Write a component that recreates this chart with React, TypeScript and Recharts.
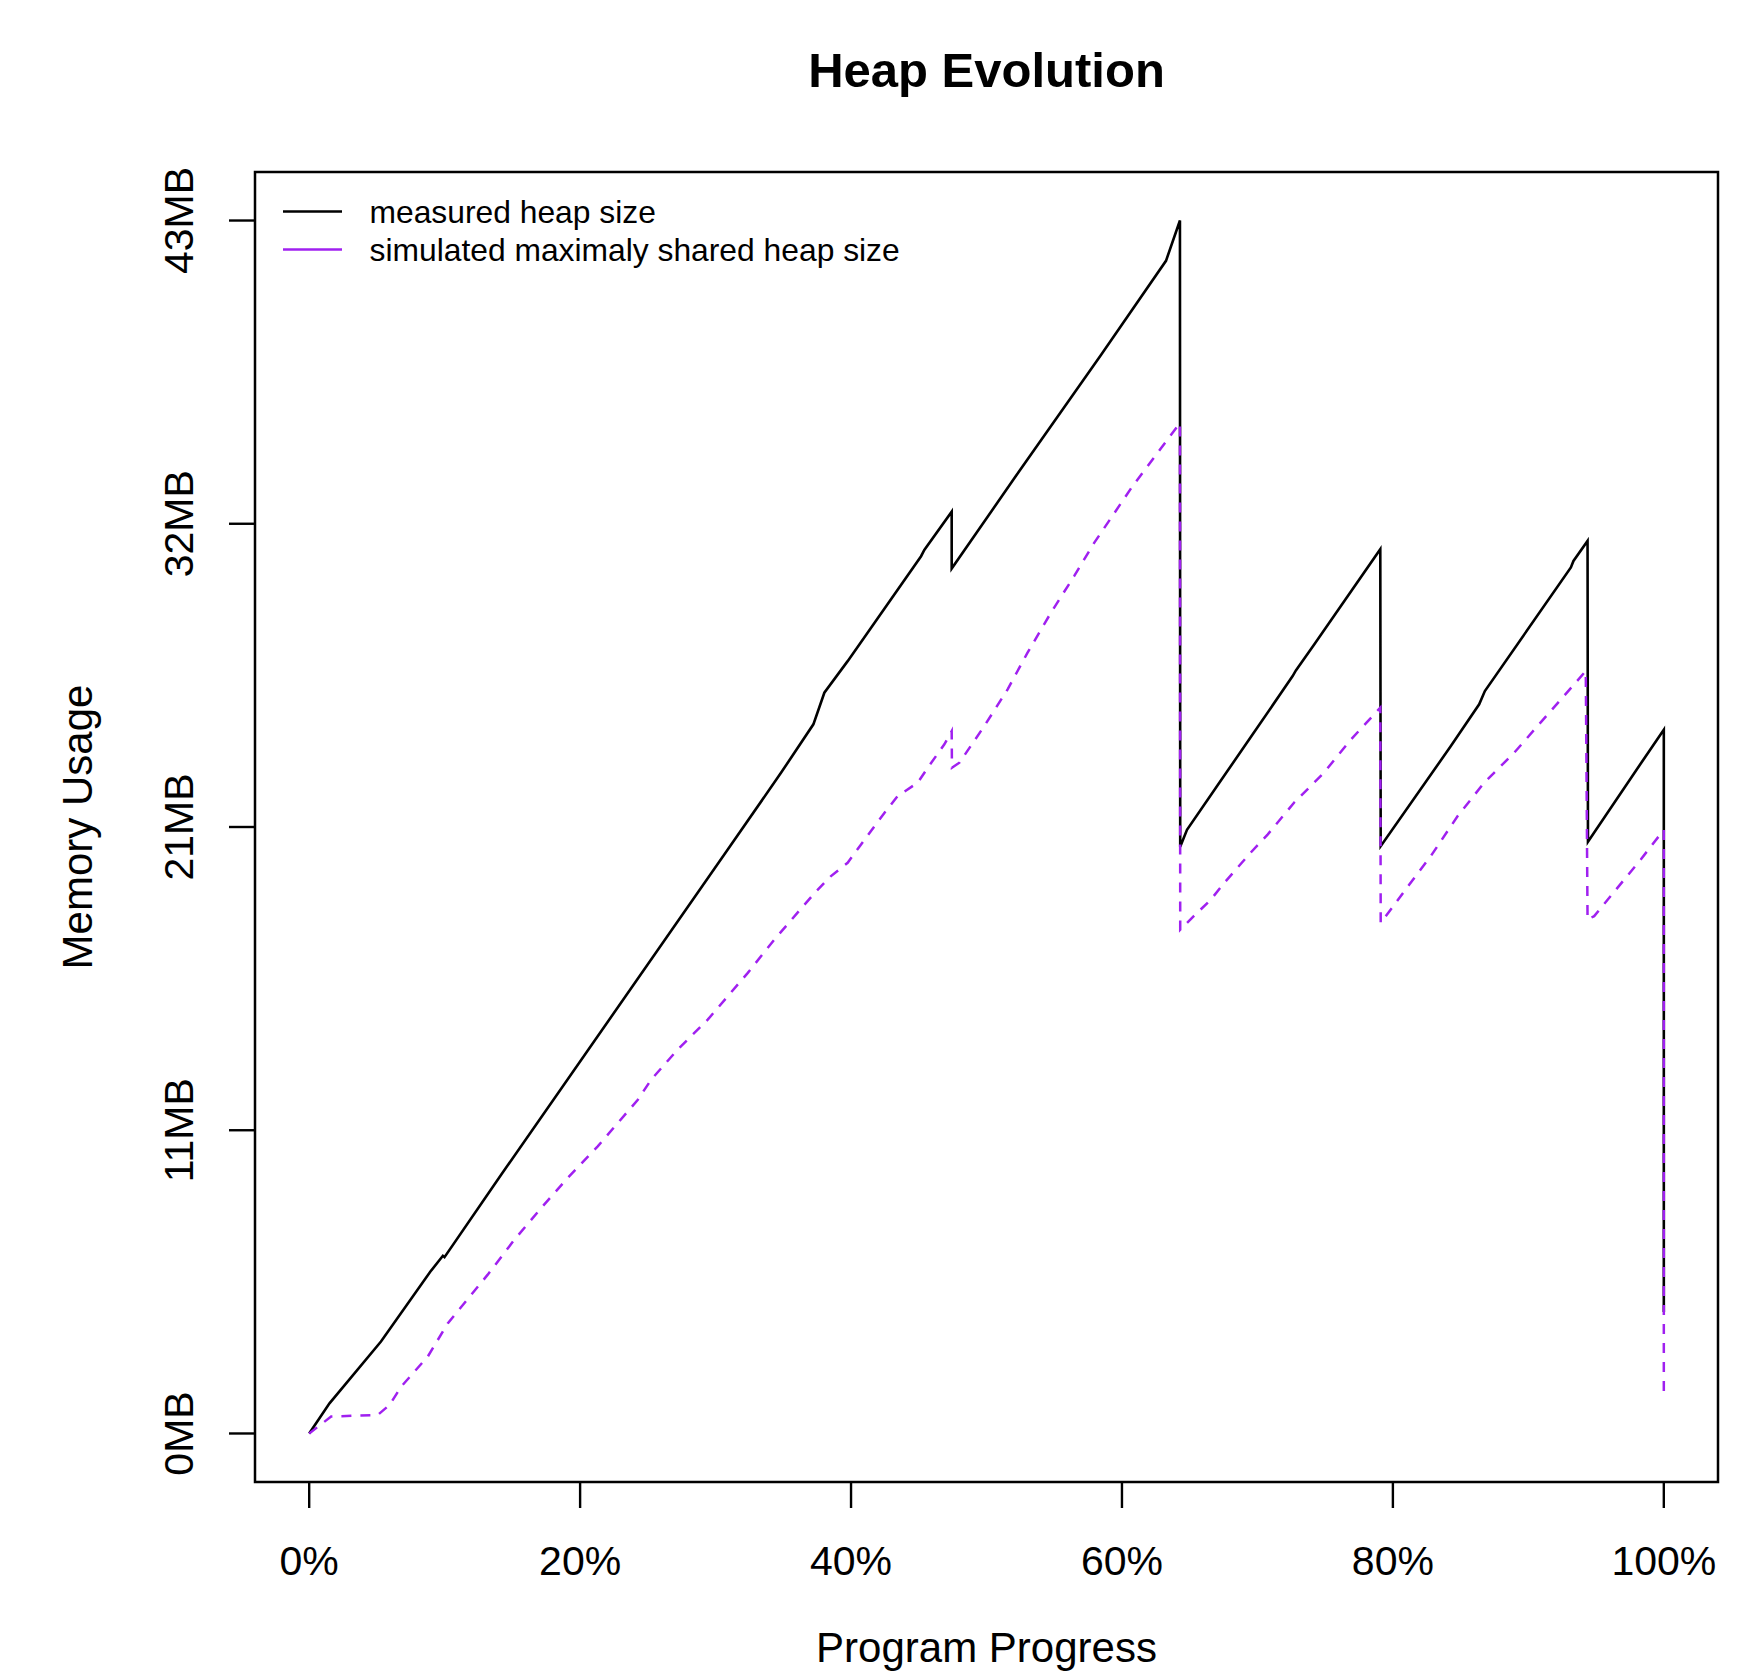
import React from 'react';
import { LineChart, Line, XAxis, YAxis, ReferenceArea, Legend } from 'recharts';

// progress (%) and heap size (MB)
const measuredX = [
  0, 1.5, 5.3, 8.95, 9.87, 9.99, 14.17, 30.9, 34.83, 37.22, 38.03, 39.75, 45.17,
  45.41, 47.43, 47.43, 52.18, 58.45, 63.25, 64.28, 64.3, 64.8, 67.06, 69.5, 72.6,
  72.84, 74.19, 79.07, 79.1, 84.28, 86.37, 86.79, 93.14, 93.33, 94.37, 94.4, 98.3,
  100, 100,
];
const measuredY = [
  0, 1.07, 3.26, 5.74, 6.3, 6.25, 9.17, 20.7, 23.42, 25.14, 26.26, 27.38, 31.1,
  31.32, 32.68, 30.66, 33.95, 38.23, 41.57, 43.0, 20.8, 21.4, 22.98, 24.68, 26.85,
  27.05, 27.97, 31.35, 20.82, 24.37, 25.85, 26.32, 30.7, 30.93, 31.64, 20.98, 23.75,
  24.95, 4.31,
];

const simulatedX = [
  0, 1.62, 5.07, 5.93, 6.79, 8.76, 10.24, 13.18, 15.15, 17.12, 19.09, 21.3, 24.26,
  25.24, 27.2, 29.42, 32.38, 34.34, 37.29, 38.52, 39.75, 40.74, 42.46, 43.45, 44.92,
  45.66, 46.89, 47.43, 47.45, 48.0, 49.84, 51.56, 53.03, 54.76, 56.48, 57.96, 60.79,
  64.28, 64.3, 65.3, 66.57, 67.55, 69.5, 70.75, 72.7, 74.9, 76.9, 79.07, 79.1, 81.2,
  82.8, 84.77, 86.74, 88.95, 90.68, 92.4, 94.24, 94.37, 94.86, 98.3, 100, 100,
];
const simulatedY = [
  0, 0.6, 0.66, 1.01, 1.66, 2.73, 3.91, 5.63, 6.87, 7.99, 9.06, 10.18, 11.83,
  12.54, 13.61, 14.67, 16.33, 17.51, 19.15, 19.76, 20.23, 20.88, 22.0, 22.6, 23.07,
  23.6, 24.43, 24.9, 23.6, 23.78, 25.08, 26.38, 27.68, 29.1, 30.4, 31.58, 33.59,
  35.82, 17.86, 18.34, 18.93, 19.52, 20.59, 21.23, 22.36, 23.42, 24.6, 25.73, 18.1, 19.45,
  20.47, 21.88, 23.07, 24.13, 25.08, 26.02, 27.03, 18.22, 18.34, 20.35, 21.4, 1.4,
];

const xTicks = [0, 20, 40, 60, 80, 100];
const yTicks = [0, 10.75, 21.5, 32.25, 43];
const yTickLabels = ['0MB', '11MB', '21MB', '32MB', '43MB'];
const seriesNames = ['measured heap size', 'simulated maximaly shared heap size'];

const FONT = '"Liberation Sans", Arial, Helvetica, sans-serif';
const PURPLE = '#A020F0';

const measured = measuredX.map((x, i) => ({ x, y: measuredY[i] }));
const simulated = simulatedX.map((x, i) => ({ x, y: simulatedY[i] }));

function YTick({ x, y, payload }: any) {
  const i = yTicks.indexOf(payload.value);
  return (
    <text
      x={x}
      y={y}
      transform={`rotate(-90 ${x} ${y})`}
      textAnchor="middle"
      fontFamily={FONT}
      fontSize={41}
      fill="#000"
    >
      {i >= 0 ? yTickLabels[i] : ''}
    </text>
  );
}

function XTick({ x, y, payload }: any) {
  return (
    <text x={x} y={y} textAnchor="middle" fontFamily={FONT} fontSize={41} fill="#000">
      {`${payload.value}%`}
    </text>
  );
}

function LegendBox() {
  const colors = ['#000', PURPLE];
  return (
    <svg width={760} height={80} style={{ display: 'block' }}>
      {seriesNames.map((name, i) => (
        <g key={name}>
          <line x1={13} x2={72} y1={21.5 + i * 38} y2={21.5 + i * 38} stroke={colors[i]} strokeWidth={2.4} />
          <text x={99.5} y={33.3 + i * 37.5} fontFamily={FONT} fontSize={31.8} fill="#000">
            {name}
          </text>
        </g>
      ))}
    </svg>
  );
}

export default function App() {
  return (
    <div style={{ position: 'absolute', left: 0, top: 0, width: 1763, height: 1673, background: '#fff' }}>
      <LineChart
        width={1763}
        height={1673}
        margin={{ top: 172, right: 45, bottom: 0, left: 0 }}
        style={{ fontFamily: FONT }}
      >
        <XAxis
          type="number"
          dataKey="x"
          domain={[-4, 104]}
          ticks={xTicks}
          allowDataOverflow
          height={191}
          axisLine={false}
          tickLine={{ stroke: '#000', strokeWidth: 2.4 }}
          tickSize={26}
          tickMargin={67}
          tick={<XTick />}
          interval={0}
          label={{
            content: ({ viewBox }: any) => (
              <text
                x={viewBox.x + viewBox.width / 2}
                y={viewBox.y + 180}
                textAnchor="middle"
                fontFamily={FONT}
                fontSize={42}
                fill="#000"
              >
                Program Progress
              </text>
            ),
          }}
        />
        <YAxis
          type="number"
          domain={[-1.72, 44.72]}
          ticks={yTicks}
          allowDataOverflow
          width={255}
          axisLine={false}
          tickLine={{ stroke: '#000', strokeWidth: 2.4 }}
          tickSize={26}
          tickMargin={36}
          tick={<YTick />}
          interval={0}
          label={{
            content: ({ viewBox }: any) => {
              const lx = viewBox.x + 92;
              const ly = viewBox.y + viewBox.height / 2;
              return (
                <text
                  x={lx}
                  y={ly}
                  transform={`rotate(-90 ${lx} ${ly})`}
                  textAnchor="middle"
                  fontFamily={FONT}
                  fontSize={42}
                  fill="#000"
                >
                  Memory Usage
                </text>
              );
            },
          }}
        />
        <ReferenceArea
          x1={-4}
          x2={104}
          y1={-1.72}
          y2={44.72}
          fill="none"
          fillOpacity={0}
          stroke="#000"
          strokeWidth={2.5}
          strokeOpacity={1}
          label={{
            content: ({ viewBox }: any) => (
              <text
                x={viewBox.x + viewBox.width / 2}
                y={viewBox.y - 85}
                textAnchor="middle"
                fontFamily={FONT}
                fontSize={49}
                fontWeight="bold"
                fill="#000"
              >
                Heap Evolution
              </text>
            ),
          }}
        />
        <Line
          data={measured}
          dataKey="y"
          name={seriesNames[0]}
          type="linear"
          stroke="#000"
          strokeWidth={2.6}
          dot={false}
          activeDot={false}
          isAnimationActive={false}
        />
        <Line
          data={simulated}
          dataKey="y"
          name={seriesNames[1]}
          type="linear"
          stroke={PURPLE}
          strokeWidth={2.5}
          strokeDasharray="10 9"
          dot={false}
          activeDot={false}
          isAnimationActive={false}
        />
        <Legend
          layout="horizontal"
          verticalAlign="middle"
          align="center"
          wrapperStyle={{ left: 270, top: 190, width: 760, height: 80 }}
          content={() => <LegendBox />}
        />
      </LineChart>
    </div>
  );
}
